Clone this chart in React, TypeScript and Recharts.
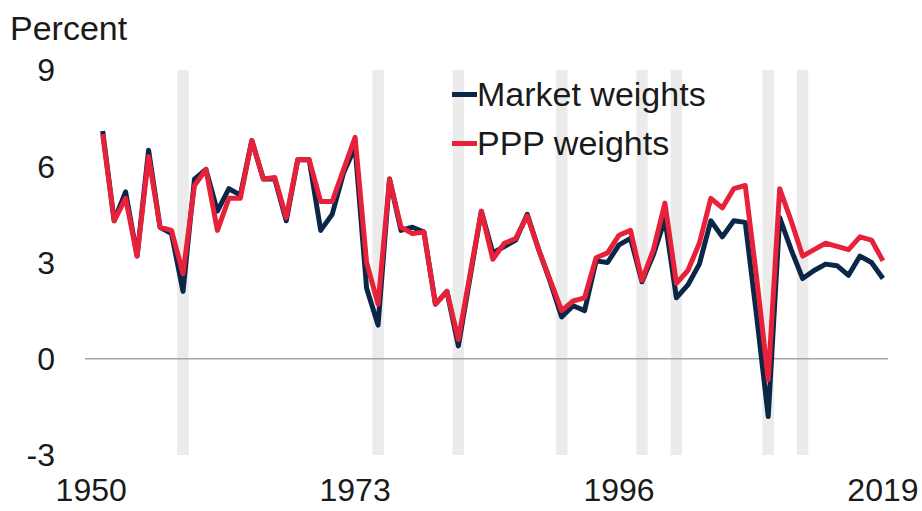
import { Line, LineChart, ReferenceArea, ReferenceLine, XAxis, YAxis } from "recharts";

const years = [
  1951, 1952, 1953, 1954, 1955, 1956, 1957, 1958, 1959, 1960,
  1961, 1962, 1963, 1964, 1965, 1966, 1967, 1968, 1969, 1970,
  1971, 1972, 1973, 1974, 1975, 1976, 1977, 1978, 1979, 1980,
  1981, 1982, 1983, 1984, 1985, 1986, 1987, 1988, 1989, 1990,
  1991, 1992, 1993, 1994, 1995, 1996, 1997, 1998, 1999, 2000,
  2001, 2002, 2003, 2004, 2005, 2006, 2007, 2008, 2009, 2010,
  2011, 2012, 2013, 2014, 2015, 2016, 2017, 2018, 2019,
];

const marketWeights = [
  7.1, 4.3, 5.2, 3.2, 6.5, 4.1, 3.9, 2.1, 5.6, 5.9,
  4.6, 5.3, 5.1, 6.8, 5.6, 5.6, 4.3, 6.2, 6.2, 4.0,
  4.5, 5.8, 6.6, 2.2, 1.05, 5.6, 4.0, 4.1, 3.95, 1.7,
  2.1, 0.4, 2.5, 4.6, 3.3, 3.5, 3.7, 4.5, 3.4, 2.4,
  1.3, 1.65, 1.5, 3.05, 3.0, 3.55, 3.75, 2.4, 3.25, 4.35,
  1.9, 2.3, 2.95, 4.3, 3.8, 4.3, 4.25, 1.3, -1.8, 4.4,
  3.4, 2.5, 2.75, 2.95, 2.9, 2.6, 3.2, 3.0, 2.5,
];

const pppWeights = [
  7.0, 4.3, 5.0, 3.2, 6.3, 4.1, 4.0, 2.65, 5.4, 5.9,
  4.0, 5.0, 5.0, 6.8, 5.6, 5.65, 4.4, 6.2, 6.2, 4.9,
  4.9, 5.9, 6.9, 3.0, 1.7, 5.6, 4.1, 3.9, 3.95, 1.7,
  2.1, 0.6, 2.6, 4.6, 3.1, 3.6, 3.75, 4.45, 3.4, 2.45,
  1.5, 1.8, 1.9, 3.15, 3.3, 3.85, 4.0, 2.45, 3.4, 4.85,
  2.35, 2.75, 3.6, 5.0, 4.7, 5.3, 5.4, 2.5, -0.65, 5.3,
  4.3, 3.2, 3.4, 3.6, 3.5, 3.4, 3.8, 3.7, 3.05,
];

// shaded years (global recessions / downturns)
const recessionYears = [1958, 1975, 1982, 1991, 1998, 2001, 2009, 2012];

const xTicks = [1950, 1973, 1996, 2019];
const yTicks = [-3, 0, 3, 6, 9];

const NAVY = "#0b2748";
const RED = "#e8213a";
const FONT = "'Liberation Sans', Arial, sans-serif";

const data = years.map((year, i) => ({
  year,
  market: marketWeights[i],
  ppp: pppWeights[i],
}));

const legendItems = [
  { label: "Market weights", color: NAVY },
  { label: "PPP weights", color: RED },
];

function LegendBox() {
  return (
    <div
      style={{
        position: "absolute",
        left: 452,
        top: 70,
        fontFamily: FONT,
        fontSize: 34,
        color: "#1a1a1a",
      }}
    >
      {legendItems.map((item) => (
        <div key={item.label} style={{ display: "flex", alignItems: "center", height: 49 }}>
          <span style={{ width: 25, height: 5, background: item.color }} />
          <span style={{ lineHeight: "49px", whiteSpace: "nowrap" }}>{item.label}</span>
        </div>
      ))}
    </div>
  );
}

export default function App() {
  return (
    <div style={{ position: "absolute", left: 0, top: 0, width: 922, height: 511, background: "#fff" }}>
      <LineChart width={922} height={511} data={data} margin={{ top: 70, right: 34, bottom: 0, left: 0 }}>
        {recessionYears.map((y) => (
          <ReferenceArea key={y} x1={y - 0.5} x2={y + 0.5} fill="#ebebeb" fillOpacity={1} stroke="none" />
        ))}
        <ReferenceLine y={0} stroke="#a6a6a6" strokeWidth={1.5} />
        <XAxis
          dataKey="year"
          type="number"
          domain={[1949.46, 2019.44]}
          ticks={xTicks}
          axisLine={false}
          tickLine={false}
          tickMargin={17}
          height={56}
          tick={{ fill: "#1a1a1a", fontSize: 32, fontFamily: FONT }}
        />
        <YAxis
          type="number"
          domain={[-3, 9]}
          ticks={yTicks}
          axisLine={false}
          tickLine={false}
          tickMargin={24}
          width={85}
          tick={{ fill: "#1a1a1a", fontSize: 32, fontFamily: FONT }}
        />
        <Line
          dataKey="market"
          name="Market weights"
          stroke={NAVY}
          strokeWidth={5}
          dot={false}
          strokeLinejoin="round"
          isAnimationActive={false}
        />
        <Line
          dataKey="ppp"
          name="PPP weights"
          stroke={RED}
          strokeWidth={5}
          dot={false}
          strokeLinejoin="round"
          isAnimationActive={false}
        />
      </LineChart>
      <div
        style={{
          position: "absolute",
          left: 10,
          top: 11,
          fontFamily: FONT,
          fontSize: 34,
          lineHeight: "34px",
          color: "#1a1a1a",
        }}
      >
        Percent
      </div>
      <LegendBox />
    </div>
  );
}
